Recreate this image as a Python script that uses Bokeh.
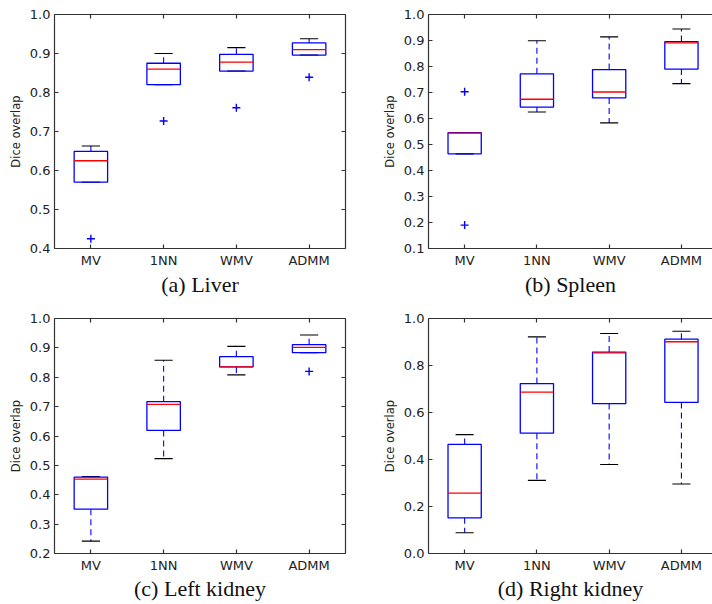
from bokeh.plotting import figure
from bokeh.layouts import row, column
from bokeh.models import FixedTicker, LinearAxis, PrintfTickFormatter, Range1d, CustomJSTickFormatter
from bokeh.embed import file_html
from bokeh.resources import INLINE

categories = ["MV", "1NN", "WMV", "ADMM"]

# (a) Liver
liver_low = [0.570, 0.820, 0.855, 0.896]
liver_q1 = [0.570, 0.820, 0.855, 0.896]
liver_med = [0.625, 0.860, 0.878, 0.910]
liver_q3 = [0.649, 0.875, 0.898, 0.927]
liver_high = [0.663, 0.900, 0.915, 0.938]
liver_out_cat = ["MV", "1NN", "WMV", "ADMM"]
liver_out_val = [0.425, 0.727, 0.761, 0.839]
liver_ticks = [0.4, 0.5, 0.6, 0.7, 0.8, 0.9, 1.0]

# (b) Spleen
spleen_low = [0.464, 0.625, 0.583, 0.734]
spleen_q1 = [0.464, 0.644, 0.679, 0.790]
spleen_med = [0.544, 0.674, 0.702, 0.891]
spleen_q3 = [0.546, 0.772, 0.788, 0.896]
spleen_high = [0.546, 0.899, 0.914, 0.944]
spleen_out_cat = ["MV", "MV"]
spleen_out_val = [0.703, 0.190]
spleen_ticks = [0.1, 0.2, 0.3, 0.4, 0.5, 0.6, 0.7, 0.8, 0.9, 1.0]

# (c) Left kidney
lkid_low = [0.242, 0.523, 0.808, 0.884]
lkid_q1 = [0.351, 0.619, 0.835, 0.884]
lkid_med = [0.453, 0.708, 0.835, 0.902]
lkid_q3 = [0.460, 0.717, 0.870, 0.911]
lkid_high = [0.462, 0.858, 0.905, 0.944]
lkid_out_cat = ["ADMM"]
lkid_out_val = [0.820]
lkid_ticks = [0.2, 0.3, 0.4, 0.5, 0.6, 0.7, 0.8, 0.9, 1.0]

# (d) Right kidney
rkid_low = [0.088, 0.311, 0.379, 0.296]
rkid_q1 = [0.152, 0.512, 0.638, 0.643]
rkid_med = [0.257, 0.687, 0.854, 0.901]
rkid_q3 = [0.464, 0.723, 0.857, 0.912]
rkid_high = [0.506, 0.922, 0.936, 0.946]
rkid_out_cat = []
rkid_out_val = []
rkid_ticks = [0.0, 0.2, 0.4, 0.6, 0.8, 1.0]

TICK_FONT = "DejaVu Sans"
AX_COLOR = "#333333"
BLUE = "#0000ff"
RED = "#ff0000"


def style_axis(ax):
    ax.major_tick_in = 4
    ax.major_tick_out = 0
    ax.minor_tick_line_color = None
    ax.axis_line_color = AX_COLOR
    ax.axis_line_width = 1.2
    ax.major_tick_line_color = AX_COLOR
    ax.major_tick_line_width = 1.2


def panel(caption, low, q1, med, q3, high, out_cat, out_val, yticks,
          width, height, mb_left, mb_right, mb_top, mb_bottom, x_end,
          right_axis, cap_standoff, fmt):
    p = figure(width=width, height=height,
               x_range=Range1d(0.5, x_end),
               y_range=Range1d(yticks[0], yticks[-1]),
               output_backend="svg", toolbar_location=None,
               min_border_left=mb_left, min_border_right=mb_right,
               min_border_top=mb_top, min_border_bottom=mb_bottom)
    p.outline_line_color = None
    p.grid.visible = False
    p.background_fill_color = "white"
    p.border_fill_color = "white"

    xs = [i + 1 for i in range(len(categories))]
    w = 0.46
    cw = 0.25

    # whiskers
    p.segment(x0=xs, y0=q3, x1=xs, y1=high, line_color=BLUE, line_width=1.1, line_dash="6 4")
    p.segment(x0=xs, y0=q1, x1=xs, y1=low, line_color=BLUE, line_width=1.1, line_dash="6 4")
    # caps
    p.segment(x0=[x - cw / 2 for x in xs], y0=high, x1=[x + cw / 2 for x in xs], y1=high,
              line_color="black", line_width=1.1)
    p.segment(x0=[x - cw / 2 for x in xs], y0=low, x1=[x + cw / 2 for x in xs], y1=low,
              line_color="black", line_width=1.1)
    # boxes
    p.quad(left=[x - w / 2 for x in xs], right=[x + w / 2 for x in xs], bottom=q1, top=q3,
           fill_color=None, line_color=BLUE, line_width=1.3)
    # medians
    p.segment(x0=[x - w / 2 for x in xs], y0=med, x1=[x + w / 2 for x in xs], y1=med,
              line_color=RED, line_width=1.3)
    # outliers
    if out_cat:
        ox = [categories.index(c) + 1 for c in out_cat]
        p.scatter(ox, out_val, marker="cross", size=8, line_color=BLUE, line_width=1.4)

    # bottom axis
    xa = p.xaxis[0]
    xa.ticker = FixedTicker(ticks=xs)
    xa.major_label_overrides = {x: c for x, c in zip(xs, categories)}
    xa.major_label_text_font = TICK_FONT
    xa.major_label_text_font_size = "13px"
    xa.major_label_text_color = "#222222"
    xa.major_label_standoff = 4
    xa.axis_label = caption
    xa.axis_label_text_font = "Liberation Serif"
    xa.axis_label_text_font_size = "22px"
    xa.axis_label_text_font_style = "normal"
    xa.axis_label_text_color = "#111111"
    xa.axis_label_standoff = cap_standoff
    style_axis(xa)

    # left axis
    ya = p.yaxis[0]
    ya.ticker = FixedTicker(ticks=yticks)
    ya.formatter = PrintfTickFormatter(format=fmt)
    ya.major_label_text_font = TICK_FONT
    ya.major_label_text_font_size = "13px"
    ya.major_label_text_color = "#222222"
    ya.major_label_standoff = 4
    ya.axis_label = "Dice overlap"
    ya.axis_label_text_font = TICK_FONT
    ya.axis_label_text_font_size = "11.5px"
    ya.axis_label_text_font_style = "normal"
    ya.axis_label_text_color = "#222222"
    ya.axis_label_standoff = 4
    style_axis(ya)

    blank = CustomJSTickFormatter(code="return ''")
    top = LinearAxis(ticker=FixedTicker(ticks=xs), formatter=blank, major_label_standoff=0)
    style_axis(top)
    p.add_layout(top, "above")
    if right_axis:
        ra = LinearAxis(ticker=FixedTicker(ticks=yticks), formatter=blank, major_label_standoff=0)
        style_axis(ra)
        p.add_layout(ra, "right")
    return p


pa = panel("(a) Liver", liver_low, liver_q1, liver_med, liver_q3, liver_high,
           liver_out_cat, liver_out_val, liver_ticks,
           356, 302, 54, 11, 14, 54, 4.5, True, 1, "%.1f")
pb = panel("(b) Spleen", spleen_low, spleen_q1, spleen_med, spleen_q3, spleen_high,
           spleen_out_cat, spleen_out_val, spleen_ticks,
           356, 302, 72, 0, 14, 54, 4.43, False, 1, "%.1f")
pc = panel("(c) Left kidney", lkid_low, lkid_q1, lkid_med, lkid_q3, lkid_high,
           lkid_out_cat, lkid_out_val, lkid_ticks,
           356, 302, 54, 11, 16, 51, 4.5, True, 0, "%.1f")
pd = panel("(d) Right kidney", rkid_low, rkid_q1, rkid_med, rkid_q3, rkid_high,
           rkid_out_cat, rkid_out_val, rkid_ticks,
           356, 302, 72, 0, 16, 51, 4.43, False, 0, "%.1f")

layout = column(row(pa, pb), row(pc, pd))

with open("out.html", "w") as f:
    f.write(file_html(layout, INLINE))
